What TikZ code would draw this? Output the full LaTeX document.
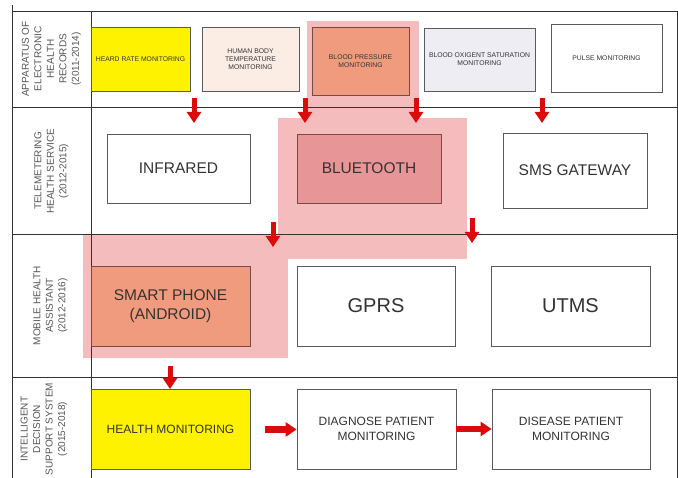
\documentclass[tikz,border=0pt]{standalone}
\usepackage{fontspec}
\setmainfont{Liberation Sans}
\usetikzlibrary{arrows.meta}
\definecolor{gridline}{HTML}{333333}
\definecolor{boxline}{HTML}{5A5A5A}
\definecolor{txt}{HTML}{333333}
\definecolor{lbl}{HTML}{555555}
\definecolor{hilite}{HTML}{F5BCBE}
\definecolor{salmon}{HTML}{F09B7E}
\definecolor{btpink}{HTML}{E89597}
\definecolor{peach}{HTML}{FCEDE4}
\definecolor{lavender}{HTML}{EEEDF3}
\definecolor{arrowred}{HTML}{DD0A0A}
\tikzset{
  cell/.style={draw=boxline, line width=0.8pt, inner sep=1pt, align=center, text=txt},
  tiny/.style={cell, font=\fontsize{6.8}{8}\selectfont},
  mid/.style={cell, font=\fontsize{15.5}{19}\selectfont},
  big/.style={cell, font=\fontsize{20}{24}\selectfont},
  med/.style={cell, font=\fontsize{12}{14.5}\selectfont},
  rowlabel/.style={rotate=90, align=center, text=lbl, inner sep=0pt, font=\fontsize{10}{12.5}\selectfont},
  grid/.style={draw=gridline, line width=0.9pt},
  blockarrow/.style={draw=arrowred, line width=5pt, -{Triangle[width=14pt,length=11pt]}},
}
\begin{document}
\begin{tikzpicture}[x=1pt,y=-1pt]
\useasboundingbox (0,0) rectangle (678,478);
% highlight
\fill[hilite] (307,21) rectangle (419,118);
\fill[hilite] (278,118) rectangle (467,259);
\fill[hilite] (83,235) rectangle (288,358);
% grid
\draw[grid] (12,5) -- (12,478);
\draw[grid] (12,11) -- (677,11);
\draw[grid] (677,11) -- (677,478);
\draw[grid] (91,11) -- (91,478);
\draw[grid] (12,107) -- (677,107);
\draw[grid] (12,234) -- (677,234);
\draw[grid] (12,377) -- (677,377);
% row labels
\node[rowlabel] (l1) at (51.5,59) {APPARATUS OF\\ELECTRONIC\\HEALTH\\RECORDS\\(2011-2014)};
\node[rowlabel] (l2) at (51.5,171) {TELEMETERING\\HEALTH SERVICE\\(2012-2015)};
\node[rowlabel] (l3) at (50.5,305.5) {MOBILE HEALTH\\ASSISTANT\\(2012-2016)};
\node[rowlabel] (l4) at (44,429) {INTELLIGENT\\DECISION\\SUPPORT SYSTEM\\(2015-2018)};
% row 1
\node[tiny, fill=yellow, minimum width=99pt, minimum height=64pt] (hr) at (140.5,59) {HEARD RATE MONITORING};
\node[tiny, fill=peach, minimum width=97pt, minimum height=64pt] (hb) at (250.5,59) {HUMAN BODY\\TEMPERATURE\\MONITORING};
\node[tiny, fill=salmon, draw=boxline!80!red, minimum width=97pt, minimum height=68pt] (bp) at (360.5,61) {BLOOD PRESSURE\\MONITORING};
\node[tiny, fill=lavender, minimum width=111pt, minimum height=63pt] (bo) at (479.5,59.5) {BLOOD OXIGENT SATURATION\\MONITORING};
\node[tiny, fill=white, minimum width=111pt, minimum height=68pt] (pm) at (606.5,58) {PULSE MONITORING};
% row 2
\node[mid, fill=white, minimum width=143pt, minimum height=69pt] (ir) at (178.5,168.5) {INFRARED};
\node[mid, fill=btpink, draw=boxline!80!red, minimum width=144pt, minimum height=69pt] (bt) at (369,168.5) {BLUETOOTH};
\node[mid, fill=white, minimum width=144pt, minimum height=75pt] (sms) at (575,170.5) {SMS GATEWAY};
% row 3
\node[mid, fill=salmon, draw=boxline!80!red, minimum width=159pt, minimum height=80pt] (sp) at (170.5,306) {SMART PHONE\\(ANDROID)};
\node[big, fill=white, minimum width=158pt, minimum height=80pt] (gprs) at (376,306) {GPRS};
\node[big, fill=white, minimum width=159pt, minimum height=80pt] (utms) at (570.5,306) {UTMS};
% row 4
\node[med, fill=yellow, minimum width=159pt, minimum height=80pt] (hm) at (170.5,429) {HEALTH MONITORING};
\node[med, fill=white, minimum width=159pt, minimum height=80pt] (dg) at (376.5,429) {DIAGNOSE PATIENT\\MONITORING};
\node[med, fill=white, minimum width=158pt, minimum height=80pt] (ds) at (571,429) {DISEASE PATIENT\\MONITORING};
% arrow end points
\coordinate (a1s) at (194,98);  \coordinate (a1e) at (194,123);
\coordinate (a2s) at (305,98);  \coordinate (a2e) at (305,123);
\coordinate (a3s) at (416,98);  \coordinate (a3e) at (416,123);
\coordinate (a4s) at (542,98);  \coordinate (a4e) at (542,123);
\coordinate (a5s) at (273,222); \coordinate (a5e) at (273,247);
\coordinate (a6s) at (472,218); \coordinate (a6e) at (472,243);
\coordinate (a7s) at (170,366); \coordinate (a7e) at (170,389);
\coordinate (a8s) at (265,429.5);
% arrows
\draw[blockarrow] (a1s) -- (a1e);
\draw[blockarrow] (a2s) -- (a2e);
\draw[blockarrow] (a3s) -- (a3e);
\draw[blockarrow] (a4s) -- (a4e);
\draw[blockarrow] (a5s) -- (a5e);
\draw[blockarrow] (a6s) -- (a6e);
\draw[blockarrow] (a7s) -- (a7e);
\draw[blockarrow, line width=6.5pt] (a8s) -- (dg.west |- a8s);
\draw[blockarrow, line width=6.5pt] (dg.east) -- (ds.west);
\end{tikzpicture}
\end{document}
